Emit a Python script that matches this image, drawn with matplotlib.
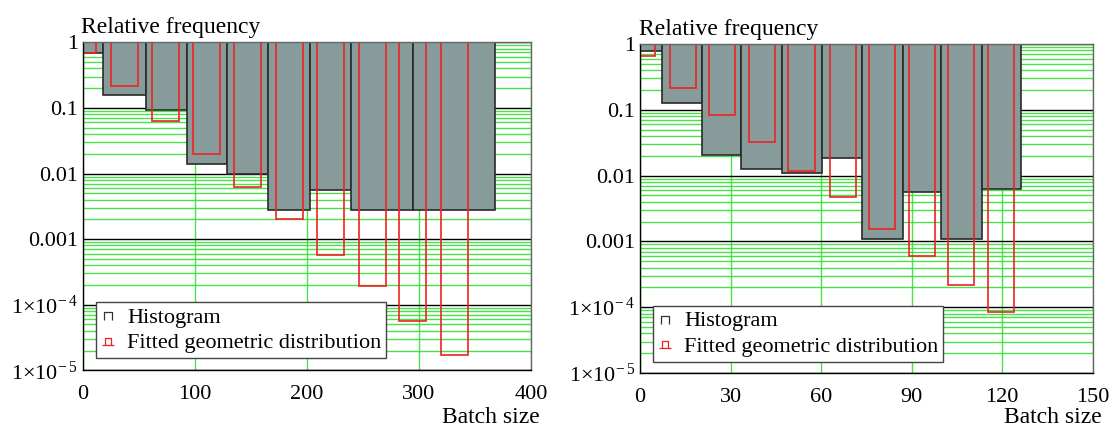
import numpy as np
import matplotlib
matplotlib.use("Agg")
import matplotlib.pyplot as plt
from matplotlib.path import Path
from matplotlib.lines import Line2D

plt.rcParams["font.family"] = ["Liberation Serif", "DejaVu Serif"]
plt.rcParams["mathtext.fontset"] = "custom"
plt.rcParams["mathtext.rm"] = "Liberation Serif"

# ---- data ----
# left panel: histogram bin edges and relative frequencies
left_hist_edges = [-18.3, 18.5, 56.1, 92.7, 129.0, 165.4, 202.7, 239.7, 295.1, 368.1]
left_hist_freq = [0.69, 0.16, 0.092, 0.014, 0.0098, 0.00278, 0.0056, 0.00278, 0.00278]
# left panel: fitted geometric distribution (bin centres, probabilities)
left_fit_x = [0, 36.9, 73.8, 110.5, 147.4, 184.5, 221.4, 258.4, 293.9, 331.3]
left_fit_p = [0.69, 0.214, 0.0625, 0.0201, 0.0063, 0.0020, 5.8e-4, 1.9e-4, 5.7e-5, 1.7e-5]

# right panel
right_hist_edges = [-6.67, 7.3, 20.7, 33.6, 47.0, 60.4, 73.7, 87.2, 99.9, 113.3, 126.4]
right_hist_freq = [0.78, 0.126, 0.0202, 0.0124, 0.0108, 0.0183, 0.0011, 0.00557, 0.0011, 0.0062]
right_fit_x = [0.6, 14.3, 27.2, 40.5, 53.5, 67.2, 80.3, 93.5, 106.5, 119.7]
right_fit_p = [0.66, 0.216, 0.084, 0.0319, 0.0119, 0.0048, 0.00155, 6.0e-4, 2.2e-4, 8.5e-5]

ytick_vals = [1e-5, 1e-4, 1e-3, 1e-2, 1e-1, 1]
ytick_text = [r"$\mathregular{1{\times}10^{-\,5}}$", r"$\mathregular{1{\times}10^{-\,4}}$",
              "0.001", "0.01", "0.1", "1"]
left_xticks = [0, 100, 200, 300, 400]
right_xticks = [0, 30, 60, 90, 120, 150]

grey = "#879b9b"
green = "#35e035"
red = "#ee2222"

# little legend glyphs
hist_icon = Path([(-0.5, -0.6), (-0.5, 0.4), (0.5, 0.4), (0.5, -0.6)],
                 [Path.MOVETO, Path.LINETO, Path.LINETO, Path.LINETO])
fit_icon = Path([(-0.9, -0.6), (0.9, -0.6), (-0.45, -0.6), (-0.45, 0.4), (0.45, 0.4), (0.45, -0.6)],
                [Path.MOVETO, Path.LINETO, Path.MOVETO, Path.LINETO, Path.LINETO, Path.LINETO])

fig = plt.figure(figsize=(11.18, 4.3), dpi=100)
ax1 = fig.add_axes([0.074, 0.1388, 0.401, 0.7628])
ax2 = fig.add_axes([0.5725, 0.1326, 0.4047, 0.7651])


def draw(ax, edges, freq, fx, fp, xticks, xmax, fit_w, leg_anchor, xlab_y):
    ax.set_yscale("log")
    ax.set_axisbelow(True)
    edges = np.array(edges)
    freq = np.array(freq)
    ax.bar(edges[:-1], 1 - freq, bottom=freq, width=np.diff(edges), align="edge",
           color=grey, edgecolor="#2a2a2a", linewidth=1.2, zorder=2)
    fp = np.array(fp)
    ax.bar(fx, 1 - fp, bottom=fp, width=fit_w, color="none",
           edgecolor=red, linewidth=1.2, zorder=3)

    ax.set_xlim(0, xmax)
    ax.set_ylim(1e-5, 1)
    ax.set_xticks(xticks)
    ax.set_yticks(ytick_vals)
    ax.set_yticklabels(ytick_text)
    ax.yaxis.set_minor_locator(matplotlib.ticker.LogLocator(base=10, subs=np.arange(2, 10), numticks=20))
    ax.yaxis.set_minor_formatter(matplotlib.ticker.NullFormatter())
    ax.tick_params(axis="both", which="both", length=0, labelsize=16)
    ax.tick_params(axis="x", pad=10.5)
    ax.tick_params(axis="y", pad=3.5)

    ax.grid(which="minor", axis="y", color=green, linewidth=1.0, alpha=0.9)
    ax.grid(which="major", axis="y", color="black", linewidth=1.0)
    ax.grid(which="major", axis="x", color=green, linewidth=1.0, alpha=0.9)

    for s in ["left", "bottom"]:
        ax.spines[s].set_color("black")
    for s in ["top", "right"]:
        ax.spines[s].set_color("#666666")
    for s in ax.spines.values():
        s.set_linewidth(1.0)
        s.set_zorder(4)

    ax.text(-0.003, 1.028, "Relative frequency", transform=ax.transAxes,
            fontsize=17, ha="left", va="baseline")
    ax.text(1.02, xlab_y, "Batch size", transform=ax.transAxes,
            fontsize=17, ha="right", va="baseline")

    handles = [
        Line2D([], [], linestyle="none", marker=hist_icon, markersize=7,
               markerfacecolor="none", markeredgecolor="#333333", markeredgewidth=0.9),
        Line2D([], [], linestyle="none", marker=fit_icon, markersize=9,
               markerfacecolor="none", markeredgecolor=red, markeredgewidth=0.9),
    ]
    leg = ax.legend(handles, ["Histogram", "Fitted geometric distribution"],
                    loc="lower left", bbox_to_anchor=leg_anchor, borderaxespad=0,
                    fontsize=16, frameon=True, fancybox=False, framealpha=1,
                    handlelength=0.7, handletextpad=0.5, labelspacing=0.22,
                    borderpad=0.22)
    leg.get_frame().set_edgecolor("#444444")
    leg.get_frame().set_linewidth(1.0)
    leg.set_zorder(5)


draw(ax1, left_hist_edges, left_hist_freq, left_fit_x, left_fit_p,
     left_xticks, 400, 24.0, (0.029, 0.037), -0.161)
draw(ax2, right_hist_edges, right_hist_freq, right_fit_x, right_fit_p,
     right_xticks, 150, 8.7, (0.028, 0.034), -0.152)

fig.savefig("out.png", dpi=100)
